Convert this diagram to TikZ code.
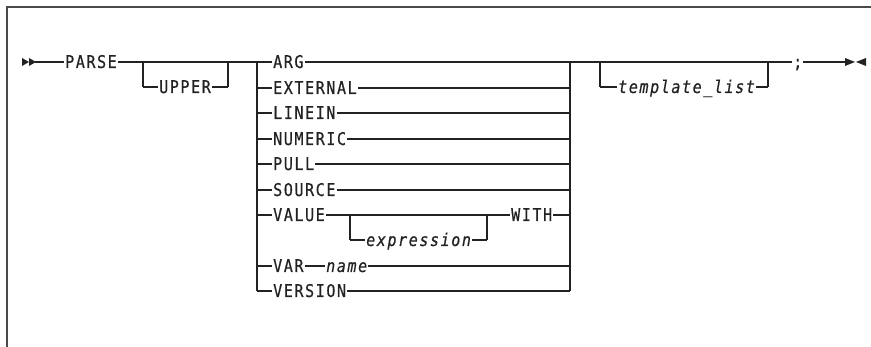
\documentclass[tikz,border=0pt]{standalone}
\usepackage{fontspec}
\setmainfont{DejaVu Sans Mono}[FakeStretch=0.86,LetterSpace=9,FakeBold=0.6]
\definecolor{ink}{HTML}{222222}
\definecolor{frame}{HTML}{4a4a4a}
\begin{document}
\begin{tikzpicture}[x=1pt,y=-1pt,
  kw/.style={anchor=west,inner xsep=1pt,inner ysep=0pt,text height=12pt,text depth=0pt,font=\fontsize{17.5}{17.5}\selectfont,text=ink},
  var/.style={kw,font=\fontsize{17.5}{17.5}\selectfont\itshape},
  rail/.style={draw=ink,line width=1.3pt},
  bar/.style={draw=ink,line width=2.2pt},
  tip/.style={fill=ink,draw=none}]
\useasboundingbox (0,0) rectangle (871,347);
\draw[frame,line width=2.2pt] (871,7) -- (7,7) -- (7,347);
% start marker
\fill[tip] (22,58) -- (29,62) -- (22,66) -- cycle;
\fill[tip] (29,58) -- (36,62) -- (29,66) -- cycle;
\coordinate (start) at (35,62);
\node[kw] (parse) at (64,62) {PARSE};
\node[kw] (upper) at (158,87) {UPPER};
% choice labels
\node[kw] (arg) at (272,62) {ARG};
\node[kw] (ext) at (272,88) {EXTERNAL};
\node[kw] (linein) at (272,113) {LINEIN};
\node[kw] (numeric) at (272,139) {NUMERIC};
\node[kw] (pull) at (272,164) {PULL};
\node[kw] (source) at (272,190) {SOURCE};
\node[kw] (value) at (272,215) {VALUE};
\node[var] (expr) at (365,240) {expression};
\node[kw] (with) at (510,215) {WITH};
\node[kw] (var) at (272,266) {VAR};
\node[var] (name) at (325,266) {name};
\node[kw] (version) at (272,291) {VERSION};
\node[var] (tmpl) at (617,87) {template\_list};
\node[kw] (semi) at (792,62) {;};
% junction coordinates
\coordinate (u1) at (143,62); \coordinate (u2) at (143,87);
\coordinate (u3) at (228,87); \coordinate (u4) at (228,62);
\coordinate (cl) at (257,62); \coordinate (clb) at (257,291);
\coordinate (cr) at (570,62); \coordinate (crb) at (570,291);
\coordinate (e1) at (350,215); \coordinate (e2) at (350,240);
\coordinate (e3) at (487,240); \coordinate (e4) at (487,215);
\coordinate (t1) at (600,62); \coordinate (t2) at (600,87);
\coordinate (t3) at (768,87); \coordinate (t4) at (768,62);
\coordinate (endp) at (845,62);
% rails
\draw[rail] (start) -- (parse.west);
\draw[rail] (parse.east) -- (arg.west);
\draw[rail] (u2) -- (upper.west);
\draw[rail] (upper.east) -- (u3);
\draw[bar] (u1) -- (u2);
\draw[bar] (u3) -- (u4);
\draw[bar] (cl) -- (clb);
\draw[bar] (cr) -- (crb);
\foreach \n/\y in {ext/88,linein/113,numeric/139,pull/164,source/190,value/215,var/266,version/291}{
  \draw[rail] (257,\y) -- (\n.west);
}
\foreach \n/\y in {arg/62,ext/88,linein/113,numeric/139,pull/164,source/190,version/291}{
  \draw[rail] (\n.east) -- (570,\y);
}
\draw[rail] (value.east) -- (with.west);
\draw[rail] (e2) -- (expr.west);
\draw[rail] (expr.east) -- (e3);
\draw[bar] (e1) -- (e2);
\draw[bar] (e3) -- (e4);
\draw[rail] (with.east) -- (570,215);
\draw[rail] (var.east) -- (name.west);
\draw[rail] (name.east) -- (570,266);
\draw[rail] (cr) -- (semi.west);
\draw[rail] (t2) -- (tmpl.west);
\draw[rail] (tmpl.east) -- (t3);
\draw[bar] (t1) -- (t2);
\draw[bar] (t3) -- (t4);
\draw[rail] (semi.east) -- (endp);
% end marker
\fill[tip] (845,58) -- (855,62) -- (845,66) -- cycle;
\fill[tip] (866,58) -- (856,62) -- (866,66) -- cycle;
\end{tikzpicture}
\end{document}
